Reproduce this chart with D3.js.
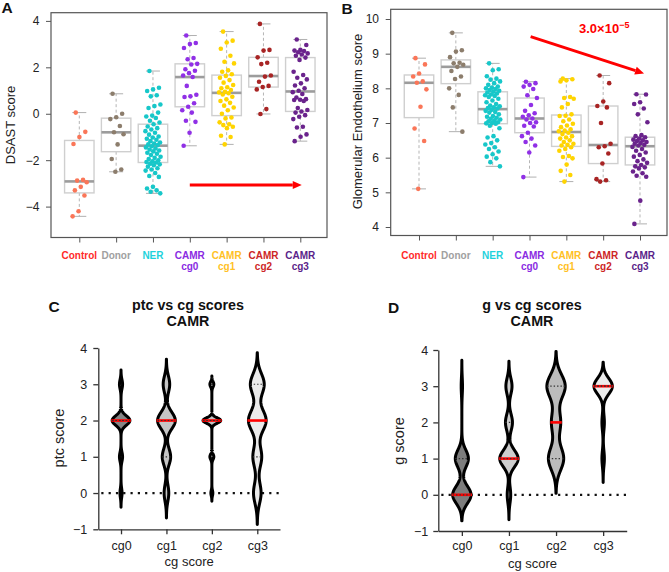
<!DOCTYPE html>
<html>
<head>
<meta charset="utf-8">
<script src="https://cdn.jsdelivr.net/npm/d3@7"></script>
<style>
  body { margin: 0; background: #fff; }
  text { font-family: "Liberation Sans", Arial, sans-serif; }
</style>
</head>
<body>
<svg width="669" height="572"></svg>
<script>
// ---------- data: panels A and B ----------
const groupNames = ["Control", "Donor", "NER", "CAMR cg0", "CAMR cg1", "CAMR cg2", "CAMR cg3"];

const dsastControl = [0.05, -0.78, -1.0, -1.3, -2.85, -2.88, -2.95, -3.15, -3.3, -3.52, -4.2, -4.42];
const dsastDonor = [0.86, 0.0, -0.15, -0.23, -0.53, -0.8, -0.88, -1.32, -1.95, -2.4, -2.5];
const dsastNER = [1.84, 1.12, 1.05, 0.98, 0.8, 0.75, 0.4, 0.33, 0.25, 0.05, -0.08, -0.12, -0.18, -0.3, -0.38,
  -0.45, -0.55, -0.62, -0.68, -0.75, -0.82, -0.9, -0.98, -1.02, -1.08, -1.12, -1.18, -1.24, -1.28, -1.32, -1.35,
  -1.4, -1.45, -1.5, -1.54, -1.58, -1.62, -1.68, -1.72, -1.78, -1.85, -1.9, -1.95, -2.0, -2.05, -2.08, -2.1,
  -2.15, -2.18, -2.22, -2.28, -2.35, -2.4, -2.45, -2.55, -2.68, -2.72, -3.15, -3.22, -3.3, -3.36, -3.43];
const dsastCg0 = [3.37, 3.05, 3.0, 2.83, 2.4, 2.35, 2.15, 2.12, 1.92, 1.85, 1.75, 1.65, 1.58, 1.2, 0.82, 0.75,
  0.72, 0.45, 0.3, 0.15, 0.05, -0.3, -0.35, -0.82, -1.38];
const dsastCg1 = [3.54, 3.15, 3.07, 2.8, 2.5, 2.24, 2.17, 1.87, 1.81, 1.7, 1.63, 1.55, 1.45, 1.34, 1.24, 1.14,
  1.1, 1.02, 0.95, 0.92, 0.88, 0.83, 0.73, 0.62, 0.55, 0.47, 0.35, 0.27, 0.15, 0.0, -0.16, -0.2, -0.37, -0.45,
  -0.49, -0.56, -0.62, -0.95, -1.0, -1.32];
const dsastCg2 = [3.87, 2.75, 2.72, 2.43, 2.2, 2.14, 1.65, 1.6, 1.38, 1.2, 1.15, 1.05, 0.2, -0.01];
const dsastCg3 = [3.2, 2.96, 2.75, 2.72, 2.7, 2.65, 2.6, 2.55, 2.5, 2.42, 2.32, 1.81, 1.67, 1.55, 1.48, 1.31,
  1.22, 1.1, 0.99, 0.93, 0.85, 0.7, 0.63, 0.6, 0.59, 0.55, 0.25, 0.16, 0.1, 0.05, -0.06, -0.13, -0.23, -0.56,
  -0.59, -0.89, -0.99, -1.18];

const endoControl = [8.87, 8.69, 8.43, 8.34, 8.2, 8.16, 7.97, 7.47, 6.84, 6.48, 5.1];
const endoDonor = [9.6, 9.1, 9.06, 8.9, 8.74, 8.72, 8.68, 8.62, 8.5, 8.34, 8.27, 8.0, 7.81, 7.45, 6.75];
const endoNER = [8.72, 8.55, 8.52, 8.35, 8.28, 8.25, 8.2, 8.15, 8.1, 8.05, 8.02, 8.0, 7.98, 7.95, 7.93,
  7.9, 7.88, 7.85, 7.82, 7.8, 7.78, 7.75, 7.7, 7.65, 7.6, 7.55, 7.5, 7.48, 7.45, 7.43, 7.42,
  7.38, 7.35, 7.32, 7.3, 7.25, 7.2, 7.18, 7.15, 7.12, 7.1, 7.08, 7.05, 7.02, 7.0, 6.99, 6.98,
  6.92, 6.85, 6.62, 6.58, 6.5, 6.42, 6.38, 6.3, 6.25, 6.18, 6.1, 6.03, 5.98, 5.87, 5.75];
const endoCg0 = [8.19, 8.15, 8.1, 8.05, 7.98, 7.8, 7.72, 7.52, 7.35, 7.28, 7.22, 7.18, 7.13, 7.1, 7.02, 7.0,
  6.92, 6.9, 6.72, 6.62, 6.55, 6.45, 6.35, 6.15, 5.44];
const endoCg1 = [8.28, 8.26, 8.23, 8.2, 7.75, 7.72, 7.7, 7.55, 7.45, 7.25, 7.21, 7.2, 7.1, 7.05, 6.98, 6.93,
  6.88, 6.82, 6.78, 6.76, 6.72, 6.68, 6.62, 6.58, 6.55, 6.5, 6.45, 6.4, 6.37, 6.35, 6.3, 6.25, 6.2, 6.05,
  6.02, 5.98, 5.8, 5.62, 5.5, 5.31];
const endoCg2 = [8.37, 8.15, 7.62, 7.49, 7.45, 7.0, 6.4, 6.33, 6.3, 6.12, 5.83, 5.38, 5.35, 5.31];
const endoCg3 = [7.83, 7.82, 7.6, 7.55, 7.42, 7.25, 7.02, 6.65, 6.62, 6.59, 6.55, 6.52, 6.5, 6.48, 6.45,
  6.42, 6.4, 6.37, 6.35, 6.31, 6.25, 6.2, 6.15, 6.08, 6.03, 5.95, 5.9, 5.85, 5.79, 5.75, 5.72, 5.69, 5.6,
  5.55, 5.48, 5.45, 4.76, 4.09];

const dsastTicks = [-4, -2, 0, 2, 4];
const endoTicks = [4, 5, 6, 7, 8, 9, 10];

// trend arrows in data units: [group position, score]
const arrowA = [[4, -3.07], [7.04, -3.07]];
const arrowB = [[4.03, 9.49], [7.11, 8.43]];

// ---------- data: panels C and D ----------
const cgLevels = ["cg0", "cg1", "cg2", "cg3"];
const scoreLevels = [0, 1, 2, 3];
// number of biopsies with each score (0,1,2,3) for every cg group
const ptcCounts = [[2, 3, 17, 3], [5, 9, 19, 7], [1, 2, 9, 2], [6, 7, 14, 11]];
const gCounts = [[14, 10, 0, 1], [4, 21, 8, 7], [0, 5, 3, 6], [0, 4, 4, 30]];
// kernel bandwidths used for the violin densities
const ptcBandwidth = [0.13, 0.23, 0.075, 0.29];
const gBandwidth = [0.24, 0.23, 0.32, 0.22];
const violinTicks = [-1, 0, 1, 2, 3, 4];

// ---------- styles ----------
const labelColors = ["#ff2a2a", "#a0a0a0", "#1fd2dc", "#8a2be2", "#ffc125", "#cd2626", "#5b1f8a"];
const pointColors = ["#fa7658", "#8c7d6c", "#17c7c9", "#9030e6", "#ffd400", "#a82424", "#6a238c"];
const frameColor = "#555";

const svg = d3.select("svg");

function fivenum(values) {
  const s = values.slice().sort(d3.ascending), n = s.length;
  const n4 = Math.floor((n + 3) / 2) / 2;
  return [1, n4, (n + 1) / 2, n + 1 - n4, n]
    .map(d => 0.5 * (s[Math.floor(d) - 1] + s[Math.ceil(d) - 1]));
}

// deterministic spread of the points around the group centre
function jitter(i) {
  return ((i * 0.618034 + 0.27) % 1) - 0.5;
}

function drawArrow(g, x1, y1, x2, y2) {
  const a = Math.atan2(y2 - y1, x2 - x1), len = 9, half = 4;
  const bx = x2 - len * Math.cos(a), by = y2 - len * Math.sin(a);
  g.append("line").attr("x1", x1).attr("y1", y1).attr("x2", bx).attr("y2", by)
    .attr("stroke", "#ff0000").attr("stroke-width", 2.8);
  g.append("path")
    .attr("d", `M${x2},${y2}L${bx - half * Math.sin(a)},${by + half * Math.cos(a)}L${bx + half * Math.sin(a)},${by - half * Math.cos(a)}Z`)
    .attr("fill", "#ff0000");
}

function boxPanel(p) {
  const g = svg.append("g");
  const x = d3.scaleLinear().domain([1, 7]).range(p.xRange);
  const y = d3.scaleLinear().domain(p.yDomain).range(p.yRange);
  const step = x(2) - x(1);
  const [fl, ft, fr, fb] = p.frame;

  g.append("rect").attr("x", fl).attr("y", ft).attr("width", fr - fl).attr("height", fb - ft)
    .attr("fill", "none").attr("stroke", frameColor).attr("stroke-width", 1.2);

  const yAxis = g.append("g").attr("transform", `translate(${fl},0)`)
    .call(d3.axisLeft(y).tickValues(p.yTicks).tickSize(5).tickSizeOuter(0).tickPadding(6.7).tickFormat(d3.format("")));
  const xAxis = g.append("g").attr("transform", `translate(0,${fb})`)
    .call(d3.axisBottom(x).tickValues(d3.range(1, 8)).tickSize(5).tickSizeOuter(0).tickFormat(""));
  [yAxis, xAxis].forEach(ax => {
    ax.select(".domain").remove();
    ax.selectAll("line").attr("stroke", frameColor);
    ax.selectAll("text").attr("font-size", 12).attr("fill", "#222").attr("font-family", "Liberation Sans, Arial, sans-serif");
  });

  // category labels (two lines)
  groupNames.forEach((name, i) => {
    const parts = name.split(" ");
    const t = g.append("text").attr("text-anchor", "middle").attr("font-size", 10)
      .attr("font-weight", "bold").attr("fill", labelColors[i]);
    t.append("tspan").attr("x", x(i + 1)).attr("y", 258.5).text(parts[0]);
    if (parts[1]) t.append("tspan").attr("x", x(i + 1)).attr("y", 269.5).text(parts[1]);
  });

  p.series.forEach((vals, i) => {
    const cx = x(i + 1);
    const [mn, lo, md, hi, mx] = fivenum(vals);
    const bw = 0.4 * step, cap = 0.19 * step;
    g.append("line").attr("x1", cx).attr("x2", cx).attr("y1", y(hi)).attr("y2", y(mx))
      .attr("stroke", "#b5b5b5").attr("stroke-dasharray", "3,2.5");
    g.append("line").attr("x1", cx).attr("x2", cx).attr("y1", y(lo)).attr("y2", y(mn))
      .attr("stroke", "#b5b5b5").attr("stroke-dasharray", "3,2.5");
    [mn, mx].forEach(v => g.append("line").attr("x1", cx - cap).attr("x2", cx + cap)
      .attr("y1", y(v)).attr("y2", y(v)).attr("stroke", "#b0b0b0"));
    g.append("rect").attr("x", cx - bw).attr("width", 2 * bw).attr("y", y(hi)).attr("height", y(lo) - y(hi))
      .attr("fill", "none").attr("stroke", "#cfcfcf").attr("stroke-width", 1.4);
    g.append("line").attr("x1", cx - bw).attr("x2", cx + bw).attr("y1", y(md)).attr("y2", y(md))
      .attr("stroke", "#9c9c9c").attr("stroke-width", 2.6);

    g.selectAll(null).data(vals).join("circle")
      .attr("cx", (d, j) => cx + jitter(j) * 0.42 * step)
      .attr("cy", d => y(d))
      .attr("r", 2.3)
      .attr("fill", pointColors[i]);
  });

  drawArrow(g, x(p.arrow[0][0]), y(p.arrow[0][1]), x(p.arrow[1][0]), y(p.arrow[1][1]));

  g.append("text").attr("transform", `translate(${p.yLabelPos[0]},${p.yLabelPos[1]}) rotate(-90)`)
    .attr("text-anchor", "middle").attr("font-size", 13).attr("fill", "#222").text(p.yLabel);
  g.append("text").attr("x", p.letterPos[0]).attr("y", p.letterPos[1]).attr("font-size", 15.5)
    .attr("font-weight", "bold").attr("fill", "#111").text(p.letter);
  return g;
}

boxPanel({
  letter: "A", letterPos: [1.5, 13.3],
  frame: [51, 12.7, 327, 237.5],
  xRange: [79.3, 300.3],
  yDomain: [-4, 4], yRange: [206.6, 20.9], yTicks: dsastTicks,
  series: [dsastControl, dsastDonor, dsastNER, dsastCg0, dsastCg1, dsastCg2, dsastCg3],
  arrow: arrowA,
  yLabel: "DSAST score", yLabelPos: [14.5, 125]
});

const gB = boxPanel({
  letter: "B", letterPos: [341.5, 13.5],
  frame: [390.7, 9.3, 667, 235.5],
  xRange: [419, 640],
  yDomain: [4, 10], yRange: [227, 19], yTicks: endoTicks,
  series: [endoControl, endoDonor, endoNER, endoCg0, endoCg1, endoCg2, endoCg3],
  arrow: arrowB,
  yLabel: "Glomerular Endothelium score", yLabelPos: [361.5, 121.5]
});

const pv = gB.append("text").attr("x", 579).attr("y", 33.3).attr("font-size", 13)
  .attr("font-weight", "bold").attr("fill", "#ff0000");
pv.append("tspan").text("3.0×10");
pv.append("tspan").attr("dy", -5.5).attr("font-size", 9).text("−5");

// ---------- violin panels ----------
function violinPanel(p) {
  const g = svg.append("g");
  const x = d3.scalePoint().domain(cgLevels).range(p.xRange).padding(0.5);
  const y = d3.scaleLinear().domain([-1, 4]).range(p.yRange);
  const maxHalf = 0.195 * x.step();

  const yAxis = g.append("g").attr("transform", `translate(${p.xRange[0]},0)`)
    .call(d3.axisLeft(y).tickValues(violinTicks).tickSize(5).tickSizeOuter(0).tickPadding(p.yPad).tickFormat(d3.format("")));
  const xAxis = g.append("g").attr("transform", `translate(0,${p.yRange[0]})`)
    .call(d3.axisBottom(x).tickSize(5).tickSizeOuter(0).tickPadding(p.xPad));
  [yAxis, xAxis].forEach(ax => {
    ax.selectAll("line,path").attr("stroke", "#333").attr("stroke-width", 1.3);
    ax.selectAll("text").attr("font-size", 12.5).attr("fill", "#222").attr("font-family", "Liberation Sans, Arial, sans-serif");
  });

  g.append("line").attr("x1", p.xRange[0] + 3).attr("x2", p.xRange[1]).attr("y1", y(0)).attr("y2", y(0))
    .attr("stroke", "#111").attr("stroke-width", 2.2).attr("stroke-dasharray", "2.2,5.1");

  cgLevels.forEach((cg, i) => {
    const counts = p.counts[i], bw = p.bw[i], cx = x(cg);
    const present = scoreLevels.filter((s, k) => counts[k] > 0);
    const lo = d3.min(present) - 3 * bw, hi = d3.max(present) + 3 * bw;
    const dens = v => d3.sum(scoreLevels, (s, k) => counts[k] * Math.exp(-0.5 * ((v - s) / bw) ** 2));
    const grid = d3.range(0, 401).map(j => lo + (hi - lo) * j / 400);
    const dmax = d3.max(grid, dens);
    const half = v => maxHalf * dens(v) / dmax;

    g.append("path")
      .attr("d", d3.area().y(v => y(v)).x0(v => cx - half(v)).x1(v => cx + half(v))(grid))
      .attr("fill", p.fills[i]).attr("stroke", "#000").attr("stroke-width", 3).attr("stroke-linejoin", "round");

    const vals = scoreLevels.flatMap((s, k) => d3.range(counts[k]).map(() => s));
    const med = d3.median(vals), q1 = d3.quantile(vals, 0.25), q3 = d3.quantile(vals, 0.75);
    g.append("line").attr("x1", cx - half(med) - 1).attr("x2", cx + half(med) + 1)
      .attr("y1", y(med)).attr("y2", y(med)).attr("stroke", "#ff0000").attr("stroke-width", 2.6);
    [q1, q3].forEach(q => g.append("line").attr("x1", cx - half(q)).attr("x2", cx + half(q))
      .attr("y1", y(q)).attr("y2", y(q)).attr("stroke", "#333").attr("stroke-width", 1.2)
      .attr("stroke-dasharray", "1.4,2"));
  });

  const mid = (p.xRange[0] + p.xRange[1]) / 2;
  g.append("text").attr("x", p.titleX).attr("y", 310).attr("text-anchor", "middle").attr("font-size", 14.3)
    .attr("font-weight", "bold").attr("fill", "#111").text(p.title);
  g.append("text").attr("x", p.titleX).attr("y", 325.7).attr("text-anchor", "middle").attr("font-size", 14.3)
    .attr("font-weight", "bold").attr("fill", "#111").text("CAMR");
  g.append("text").attr("x", mid).attr("y", p.xLabelY).attr("text-anchor", "middle").attr("font-size", 13)
    .attr("fill", "#222").text("cg score");
  g.append("text").attr("transform", `translate(${p.yLabelPos[0]},${p.yLabelPos[1]}) rotate(-90)`)
    .attr("text-anchor", "middle").attr("font-size", 14.5).attr("fill", "#222").text(p.yLabel);
  g.append("text").attr("x", p.letterPos[0]).attr("y", p.letterPos[1]).attr("font-size", 15.5)
    .attr("font-weight", "bold").attr("fill", "#111").text(p.letter);
}

violinPanel({
  letter: "C", letterPos: [48.5, 312.3],
  title: "ptc vs cg scores", titleX: 188,
  xRange: [98.3, 280], yRange: [529.3, 348],
  counts: ptcCounts, bw: ptcBandwidth,
  fills: ["#858585", "#c6c6c6", "#c2c2c2", "#ebebeb"],
  yPad: 6, xPad: 6.8, xLabelY: 566,
  yLabel: "ptc score", yLabelPos: [63.5, 438]
});

violinPanel({
  letter: "D", letterPos: [388, 312.7],
  title: "g vs cg scores", titleX: 532,
  xRange: [438.3, 626.7], yRange: [531, 350],
  counts: gCounts, bw: gBandwidth,
  fills: ["#7d7d7d", "#cdcdcd", "#bcbcbc", "#ececec"],
  yPad: 5, xPad: 5, xLabelY: 567.5,
  yLabel: "g score", yLabelPos: [404, 441]
});
</script>
</body>
</html>
